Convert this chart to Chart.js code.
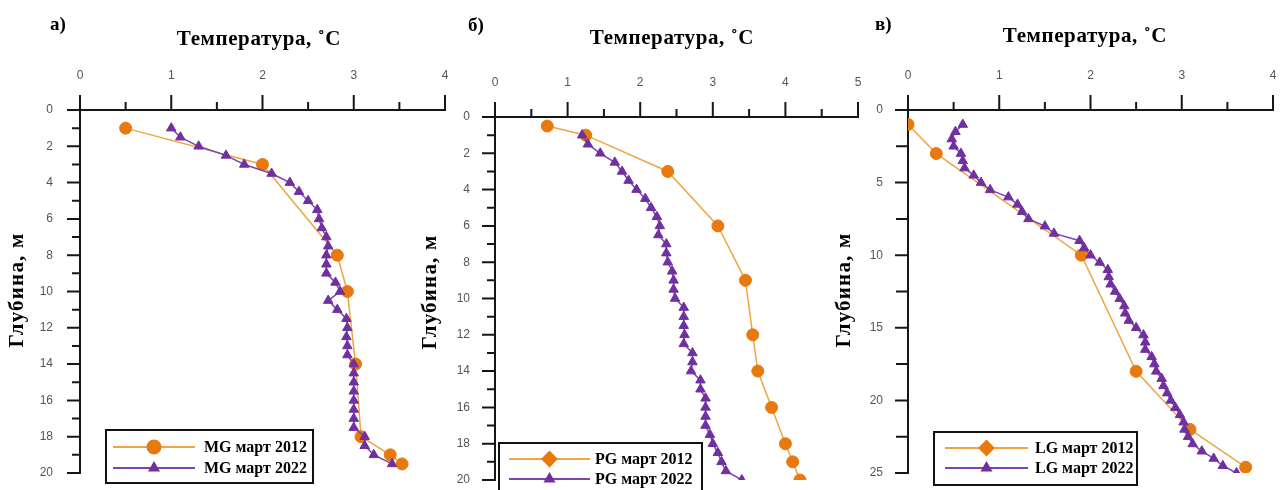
<!DOCTYPE html>
<html>
<head>
<meta charset="utf-8">
<script src="https://cdn.jsdelivr.net/npm/chart.js@4.4.1/dist/chart.umd.min.js"></script>
<style>
    body { margin: 0; background: #fff; width: 1282px; height: 490px; overflow: hidden; position: relative; }
    .panel { position: absolute; top: 0; height: 490px; }
</style>
</head>
<body>
<div class="panel" style="left:0;width:460px"><canvas id="chartA"></canvas></div>
<div class="panel" style="left:420px;width:450px"><canvas id="chartB"></canvas></div>
<div class="panel" style="left:825px;width:457px"><canvas id="chartC"></canvas></div>
<script>
// Подписи
const xTitle = 'Температура, ˚С';
const yTitle = 'Глубина, м';

// а) MG
const depthMG2012 = [1, 3, 8, 10, 14, 18, 19, 19.5];
const tempMG2012  = [0.5, 2.0, 2.82, 2.93, 3.02, 3.08, 3.4, 3.53];
const depthMG2022 = [1, 1.5, 2, 2.5, 3, 3.5, 4, 4.5, 5, 5.5, 6, 6.5, 7, 7.5, 8, 8.5, 9, 9.5, 10,
                     10.5, 11, 11.5, 12, 12.5, 13, 13.5, 14, 14.5, 15, 15.5, 16, 16.5, 17, 17.5, 18, 18.5, 19, 19.5];
const tempMG2022  = [1.0, 1.1, 1.3, 1.6, 1.8, 2.1, 2.3, 2.4, 2.5, 2.6, 2.62, 2.65, 2.7, 2.72, 2.7, 2.7, 2.7, 2.8, 2.85,
                     2.72, 2.82, 2.92, 2.93, 2.92, 2.93, 2.93, 3.0, 3.0, 3.0, 3.0, 3.0, 3.0, 3.0, 3.0, 3.12, 3.12, 3.22, 3.42];

// б) PG
const depthPG2012 = [0.5, 1, 3, 6, 9, 12, 14, 16, 18, 19, 20];
const tempPG2012  = [0.72, 1.25, 2.38, 3.07, 3.45, 3.55, 3.62, 3.81, 4.0, 4.1, 4.2];
const depthPG2022 = [1, 1.5, 2, 2.5, 3, 3.5, 4, 4.5, 5, 5.5, 6, 6.5, 7, 7.5, 8, 8.5, 9, 9.5, 10,
                     10.5, 11, 11.5, 12, 12.5, 13, 13.5, 14, 14.5, 15, 15.5, 16, 16.5, 17, 17.5, 18, 18.5, 19, 19.5, 20];
const tempPG2022  = [1.2, 1.28, 1.45, 1.65, 1.75, 1.84, 1.95, 2.07, 2.15, 2.23, 2.27, 2.25, 2.36, 2.36, 2.38, 2.44, 2.46, 2.46, 2.48,
                     2.6, 2.6, 2.6, 2.61, 2.6, 2.72, 2.72, 2.7, 2.83, 2.83, 2.9, 2.9, 2.9, 2.9, 2.96, 3.0, 3.07, 3.12, 3.18, 3.4];

// в) LG
const depthLG2012 = [1, 3, 10, 18, 22, 24.6];
const tempLG2012  = [0.0, 0.31, 1.9, 2.5, 3.09, 3.7];
const depthLG2022 = [1, 1.5, 2, 2.5, 3, 3.5, 4, 4.5, 5, 5.5, 6, 6.5, 7, 7.5, 8, 8.5, 9, 9.5, 10, 10.5, 11, 11.5, 12, 12.5,
                     13, 13.5, 14, 14.5, 15, 15.5, 16, 16.5, 17, 17.5, 18, 18.5, 19, 19.5, 20, 20.5, 21, 21.5, 22, 22.5, 23, 23.5, 24, 24.5, 25];
const tempLG2022  = [0.6, 0.52, 0.48, 0.5, 0.58, 0.6, 0.62, 0.72, 0.8, 0.9, 1.1, 1.2, 1.25, 1.32, 1.5, 1.6, 1.88, 1.93, 2.0, 2.1, 2.19, 2.2, 2.22, 2.27,
                     2.32, 2.37, 2.38, 2.42, 2.5, 2.58, 2.6, 2.6, 2.67, 2.7, 2.72, 2.78, 2.8, 2.84, 2.88, 2.93, 2.98, 3.02, 3.03, 3.07, 3.12, 3.22, 3.35, 3.45, 3.6];

const orangeMarker = '#E8790F';
const orangeLine = '#F0A545';
const purple = '#7030A0';
const purpleLine = '#7B45AD';
const axisColor = '#161616';
const serif = "'Liberation Serif', 'Times New Roman', serif";

function toPoints(xs, ys) {
    return xs.map((d, i) => ({ x: ys[i], y: d }));
}

// оси, засечки, подписи и легенда
const decorPlugin = {
    id: 'decor',
    beforeDatasetsDraw(chart, args, opts) {
        const ctx = chart.ctx;
        const sx = chart.scales.x, sy = chart.scales.y;
        const left = sx.getPixelForValue(sx.min), right = sx.getPixelForValue(sx.max);
        const top = sy.getPixelForValue(sy.min), bottom = sy.getPixelForValue(sy.max);
        ctx.save();
        ctx.strokeStyle = axisColor;
        ctx.lineWidth = 2;
        ctx.beginPath();
        ctx.moveTo(left, top); ctx.lineTo(right + 1, top);
        ctx.moveTo(left, top); ctx.lineTo(left, bottom);
        for (let v = sx.min; v <= sx.max + 1e-9; v += opts.xMinor) {
            const px = sx.getPixelForValue(v);
            const major = Math.abs(v - Math.round(v)) < 1e-6;
            ctx.moveTo(px, top + 1); ctx.lineTo(px, top - (major ? 15 : 8));
        }
        for (let v = sy.min; v <= sy.max + 1e-9; v += opts.yMinor) {
            const py = sy.getPixelForValue(v);
            const major = Math.abs(v / opts.yMajor - Math.round(v / opts.yMajor)) < 1e-6;
            ctx.moveTo(left + 1, py); ctx.lineTo(left - (major ? 13 : opts.yMinorLen), py);
        }
        ctx.stroke();
        ctx.restore();
    },
    afterDraw(chart, args, opts) {
        const ctx = chart.ctx;
        ctx.save();
        ctx.fillStyle = '#000';
        ctx.font = 'bold 19px ' + serif;
        ctx.textAlign = 'left';
        ctx.textBaseline = 'alphabetic';
        ctx.fillText(opts.letter, opts.letterX, opts.letterY);

        ctx.font = 'bold 21px ' + serif;
        ctx.textAlign = 'center';
        ctx.textBaseline = 'middle';
        ctx.letterSpacing = '0.6px';
        ctx.fillText(xTitle, opts.titleX, opts.titleY);

        ctx.save();
        ctx.translate(opts.yTitleX, opts.yTitleY);
        ctx.rotate(-Math.PI / 2);
        ctx.letterSpacing = '1.2px';
        ctx.fillText(yTitle, 0, 0);
        ctx.restore();
        ctx.letterSpacing = '0px';

        // легенда
        const lg = opts.legend;
        ctx.fillStyle = '#fff';
        ctx.fillRect(lg.x, lg.y, lg.w, lg.h);
        ctx.strokeStyle = '#111';
        ctx.lineWidth = 2;
        ctx.strokeRect(lg.x, lg.y, lg.w, lg.h);
        chart.data.datasets.forEach((ds, i) => {
            const ry = lg.rows[i];
            ctx.strokeStyle = ds.borderColor;
            ctx.lineWidth = 2;
            ctx.beginPath();
            ctx.moveTo(lg.lineX1, ry); ctx.lineTo(lg.lineX2, ry);
            ctx.stroke();
            ctx.fillStyle = ds.pointBackgroundColor;
            ctx.strokeStyle = ds.pointBackgroundColor;
            Chart.helpers.drawPoint(ctx, {
                pointStyle: lg.styles[i], radius: lg.radii[i], borderWidth: 1, rotation: 0
            }, (lg.lineX1 + lg.lineX2) / 2, ry);
            ctx.fillStyle = '#000';
            ctx.font = 'bold 16px ' + serif;
            ctx.textAlign = 'left';
            ctx.textBaseline = 'middle';
            ctx.fillText(ds.label, lg.textX, ry + 1);
        });
        ctx.restore();
    }
};

function buildPanel(id, p) {
    const ctx = document.getElementById(id).getContext('2d');
    return new Chart(ctx, {
        type: 'scatter',
        data: {
            datasets: [{
                label: p.labels[0],
                data: toPoints(p.d1, p.t1),
                showLine: true,
                borderColor: orangeLine,
                borderWidth: 1.5,
                pointStyle: 'circle',
                pointRadius: 6,
                pointBackgroundColor: orangeMarker,
                pointBorderColor: orangeMarker,
                pointBorderWidth: 1,
                order: 1
            }, {
                label: p.labels[1],
                data: toPoints(p.d2, p.t2),
                showLine: true,
                borderColor: purpleLine,
                borderWidth: 1.5,
                pointStyle: 'triangle',
                pointRadius: 5.5,
                pointBackgroundColor: purple,
                pointBorderColor: purple,
                pointBorderWidth: 1,
                order: 0
            }]
        },
        options: {
            responsive: true,
            maintainAspectRatio: false,
            animation: false,
            events: [],
            layout: { padding: { left: 0, top: 0, right: p.padRight, bottom: p.padBottom } },
            scales: {
                x: {
                    type: 'linear',
                    position: 'top',
                    min: 0, max: p.xMax,
                    grid: { display: false, drawTicks: false },
                    border: { display: false },
                    ticks: {
                        stepSize: 1,
                        padding: 27,
                        color: '#555',
                        font: { family: "'Liberation Sans', Arial, sans-serif", size: 12 }
                    },
                    afterFit(scale) {
                        scale.height = p.areaTop;
                        scale.paddingLeft = 0;
                        scale.paddingRight = 0;
                    }
                },
                y: {
                    type: 'linear',
                    reverse: true,
                    min: 0, max: p.yMax,
                    grid: { display: false, drawTicks: false },
                    border: { display: false },
                    ticks: {
                        stepSize: p.yMajor,
                        padding: p.yPad,
                        color: '#555',
                        font: { family: "'Liberation Sans', Arial, sans-serif", size: 12 }
                    },
                    afterFit(scale) {
                        scale.width = p.areaLeft;
                        scale.paddingTop = 0;
                        scale.paddingBottom = 0;
                    }
                }
            },
            plugins: {
                legend: { display: false },
                tooltip: { enabled: false },
                decor: {
                    xMinor: 0.5, yMajor: p.yMajor, yMinor: p.yMinor, yMinorLen: p.yMinorLen,
                    letter: p.letter, letterX: p.letterX, letterY: p.letterY,
                    titleX: p.titleX, titleY: p.titleY,
                    yTitleX: p.yTitleX, yTitleY: p.yTitleY,
                    legend: p.legend
                }
            }
        },
        plugins: [decorPlugin]
    });
}

buildPanel('chartA', {
    labels: ['MG март 2012', 'MG март 2022'],
    d1: depthMG2012, t1: tempMG2012, d2: depthMG2022, t2: tempMG2022,
    xMax: 4, yMax: 20, yMajor: 2, yMinor: 1, yMinorLen: 8, yPad: 27,
    areaLeft: 80, areaTop: 110, padRight: 15, padBottom: 17,
    letter: 'а)', letterX: 50, letterY: 30,
    titleX: 259, titleY: 40, yTitleX: 18, yTitleY: 290,
    legend: { x: 106, y: 430, w: 207, h: 53, rows: [447, 468], lineX1: 113, lineX2: 195, textX: 204,
              styles: ['circle', 'triangle'], radii: [6.5, 5] }
});

buildPanel('chartB', {
    labels: ['PG март 2012', 'PG март 2022'],
    d1: depthPG2012, t1: tempPG2012, d2: depthPG2022, t2: tempPG2022,
    xMax: 5, yMax: 20, yMajor: 2, yMinor: 1, yMinorLen: 8, yPad: 25,
    areaLeft: 75, areaTop: 117, padRight: 12, padBottom: 10,
    letter: 'б)', letterX: 48, letterY: 31,
    titleX: 252, titleY: 39, yTitleX: 11, yTitleY: 292,
    legend: { x: 79, y: 443, w: 203, h: 60, rows: [459, 479], lineX1: 89, lineX2: 170, textX: 175,
              styles: ['rectRot', 'triangle'], radii: [7, 5] }
});

buildPanel('chartC', {
    labels: ['LG март 2012', 'LG март 2022'],
    d1: depthLG2012, t1: tempLG2012, d2: depthLG2022, t2: tempLG2022,
    xMax: 4, yMax: 25, yMajor: 5, yMinor: 2.5, yMinorLen: 12, yPad: 25,
    areaLeft: 83, areaTop: 110, padRight: 9, padBottom: 17,
    letter: 'в)', letterX: 50, letterY: 30,
    titleX: 260, titleY: 37, yTitleX: 20, yTitleY: 290,
    legend: { x: 109, y: 432, w: 203, h: 53, rows: [448, 468], lineX1: 120, lineX2: 203, textX: 210,
              styles: ['rectRot', 'triangle'], radii: [7, 5] }
});
</script>
</body>
</html>
